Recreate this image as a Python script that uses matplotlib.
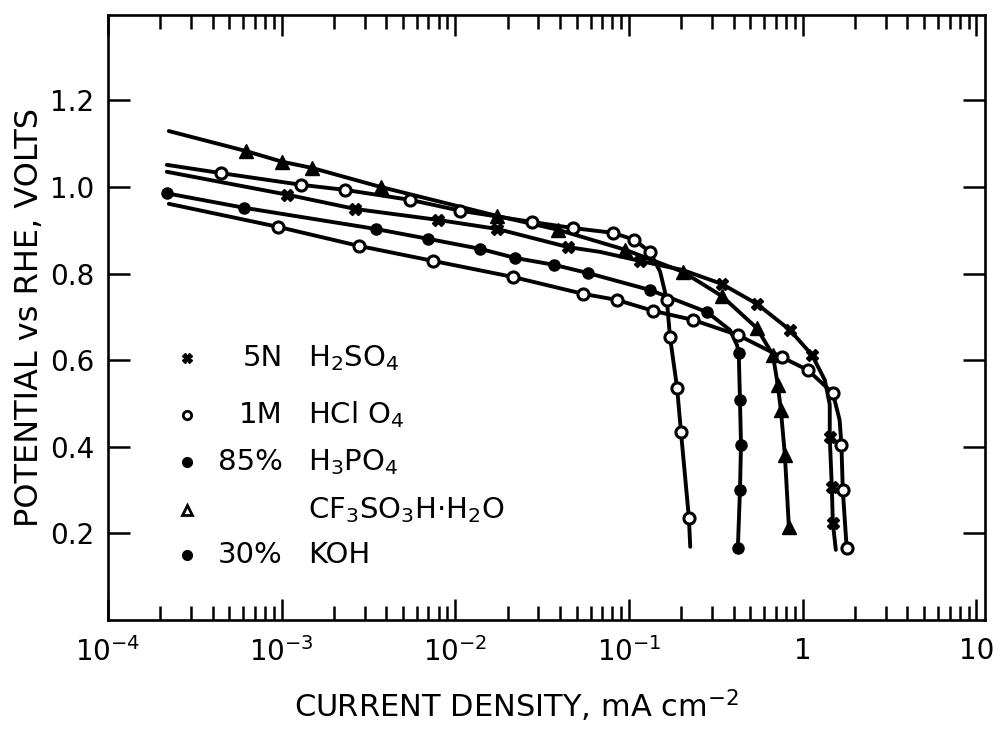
import matplotlib

matplotlib.use("Agg")
import matplotlib.pyplot as plt
from matplotlib.ticker import FixedLocator, LogLocator, NullFormatter

# values (current density mA cm-2, potential V vs RHE)
# "marks" are the indices of the points that carry a symbol; the rest only shape the line
h2so4_x = [2.18e-4, 1.08e-3, 2.66e-3, 7.89e-3, 1.74e-2, 4.46e-2, 6.81e-2, 0.116, 0.204,
           0.342, 0.544, 0.841, 1.13, 1.34, 1.43, 1.43, 1.47, 1.49, 1.55]
h2so4_y = [1.035, 0.982, 0.949, 0.924, 0.903, 0.861, 0.850, 0.829, 0.808,
           0.776, 0.730, 0.670, 0.612, 0.554, 0.497, 0.423, 0.307, 0.224, 0.162]
h2so4_marks = [1, 2, 3, 4, 5, 7, 9, 10, 11, 12, 15, 16, 17]

hclo4_x = [2.18e-4, 4.46e-4, 1.29e-3, 2.33e-3, 5.51e-3, 1.07e-2, 2.77e-2, 4.77e-2, 8.09e-2,
           0.107, 0.132, 0.151, 0.165, 0.172, 0.189, 0.199, 0.221, 0.225]
hclo4_y = [1.051, 1.032, 1.005, 0.993, 0.970, 0.945, 0.919, 0.905, 0.894,
           0.878, 0.850, 0.804, 0.739, 0.654, 0.536, 0.434, 0.236, 0.169]
hclo4_marks = [1, 2, 3, 4, 5, 6, 7, 8, 9, 10, 12, 13, 14, 15, 16]

h3po4_x = [2.2e-4, 6.05e-4, 3.47e-3, 7.0e-3, 1.39e-2, 2.21e-2, 3.71e-2, 5.81e-2, 0.132,
           0.281, 0.380, 0.418, 0.428, 0.435, 0.441, 0.435, 0.423]
h3po4_y = [0.985, 0.952, 0.903, 0.880, 0.857, 0.836, 0.820, 0.801, 0.762,
           0.711, 0.670, 0.635, 0.617, 0.508, 0.404, 0.300, 0.166]
h3po4_marks = [0, 1, 2, 3, 4, 5, 6, 7, 8, 9, 12, 13, 14, 15, 16]

cf3_x = [2.24e-4, 6.21e-4, 1.01e-3, 1.49e-3, 3.71e-3, 1.74e-2, 3.91e-2, 9.48e-2, 0.204,
         0.342, 0.544, 0.673, 0.718, 0.748, 0.789, 0.832]
cf3_y = [1.129, 1.083, 1.058, 1.044, 1.000, 0.933, 0.901, 0.855, 0.804,
         0.748, 0.674, 0.612, 0.543, 0.485, 0.381, 0.215]
cf3_marks = list(range(1, 16))

koh_x = [2.24e-4, 9.48e-4, 2.77e-3, 7.48e-3, 2.15e-2, 5.45e-2, 8.53e-2, 0.137, 0.233,
         0.423, 0.757, 1.07, 1.49, 1.63, 1.67, 1.70, 1.79]
koh_y = [0.961, 0.908, 0.864, 0.829, 0.792, 0.753, 0.739, 0.714, 0.693,
         0.658, 0.607, 0.577, 0.524, 0.462, 0.404, 0.300, 0.166]
koh_marks = [1, 2, 3, 4, 5, 6, 7, 8, 9, 10, 11, 12, 14, 15, 16]

legend_left = ["5N", "1M", "85%", "", "30%"]
legend_right = ["H$_2$SO$_4$", "HCl O$_4$", "H$_3$PO$_4$", "CF$_3$SO$_3$H·H$_2$O", "KOH"]

x_major = [1e-4, 1e-3, 1e-2, 1e-1, 1, 10]
x_labels = ["$10^{-4}$", "$10^{-3}$", "$10^{-2}$", "$10^{-1}$", "1", "10"]
y_major = [0.2, 0.4, 0.6, 0.8, 1.0, 1.2]
y_labels = ["0.2", "0.4", "0.6", "0.8", "1.0", "1.2"]

plt.rcParams["font.family"] = ["DejaVu Sans"]
plt.rcParams["mathtext.fontset"] = "dejavusans"

fig = plt.figure(figsize=(10.01, 7.30), dpi=100)
ax = fig.add_axes([108 / 1001, 110 / 730, 877 / 1001, 605 / 730])

open_c = dict(marker="o", ms=8, mfc="white", mec="black", mew=2.2)
fill_c = dict(marker="o", ms=8, mfc="black", mec="black")
tri = dict(marker="^", ms=10, mfc="black", mec="black")
cross = dict(marker="X", ms=8, mfc="black", mec="black")

series = [
    (h2so4_x, h2so4_y, h2so4_marks, cross),
    (hclo4_x, hclo4_y, hclo4_marks, open_c),
    (h3po4_x, h3po4_y, h3po4_marks, fill_c),
    (cf3_x, cf3_y, cf3_marks, tri),
    (koh_x, koh_y, koh_marks, open_c),
]
for xs, ys, marks, style in series:
    ax.plot(xs, ys, color="black", lw=2.8, solid_joinstyle="round",
            solid_capstyle="round", zorder=2)
    ax.plot([xs[i] for i in marks], [ys[i] for i in marks], ls="none", zorder=3, **style)

ax.set_xscale("log")
ax.set_xlim(1e-4, 11.2)
ax.set_ylim(0, 1.397)

ax.xaxis.set_major_locator(FixedLocator(x_major))
ax.set_xticklabels(x_labels)
ax.xaxis.set_minor_locator(LogLocator(base=10, subs=range(2, 10), numticks=20))
ax.xaxis.set_minor_formatter(NullFormatter())
ax.set_yticks(y_major)
ax.set_yticklabels(y_labels)

ax.tick_params(axis="both", which="both", direction="in", top=True, right=True,
               width=1.8, colors="black")
ax.tick_params(axis="x", which="major", length=15, pad=12, labelsize=20)
ax.tick_params(axis="x", which="minor", length=10)
ax.tick_params(axis="y", which="major", length=16, pad=10, labelsize=20)
for sp in ax.spines.values():
    sp.set_linewidth(1.9)

ax.set_xlabel("CURRENT DENSITY, mA cm$^{-2}$", fontsize=22)
ax.set_ylabel("POTENTIAL vs RHE, VOLTS", fontsize=23)
ax.xaxis.set_label_coords(0.466, -0.112)
ax.yaxis.set_label_coords(-0.072, 0.5)

# hand-drawn key in the lower left of the frame
key_rows = [0.433, 0.339, 0.261, 0.182, 0.107]
key_styles = [
    dict(marker="X", ms=7, mfc="black", mec="black"),
    dict(marker="o", ms=6, mfc="white", mec="black", mew=2),
    dict(marker="o", ms=7, mfc="black", mec="black"),
    dict(marker="^", ms=7, mfc="white", mec="black", mew=2),
    dict(marker="o", ms=7, mfc="black", mec="black"),
]
for yk, left, right, st in zip(key_rows, legend_left, legend_right, key_styles):
    ax.plot([0.090], [yk], transform=ax.transAxes, ls="none", clip_on=False, **st)
    ax.text(0.1995, yk, left, transform=ax.transAxes, ha="right", va="center", fontsize=21)
    ax.text(0.228, yk, right, transform=ax.transAxes, ha="left", va="center", fontsize=21)

fig.savefig("out.png", dpi=100, facecolor="white")
